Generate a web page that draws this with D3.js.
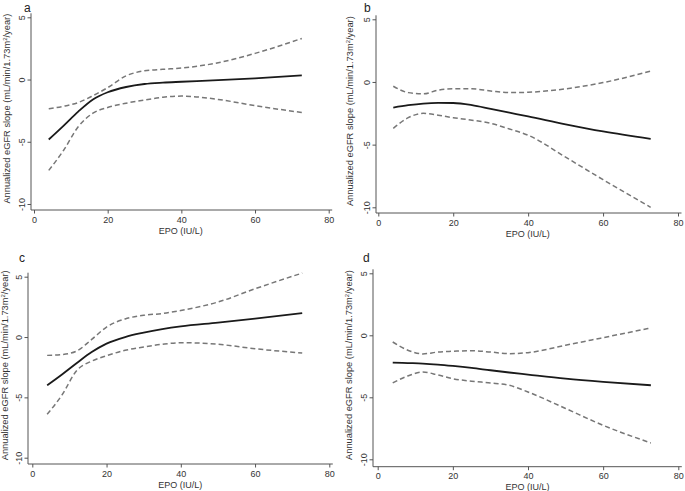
<!DOCTYPE html>
<meta charset="utf-8">
<script src="https://cdn.jsdelivr.net/npm/d3@7"></script>
<style>
    body { margin: 0; background: white; }
    svg { font-family: "Liberation Sans", Arial, sans-serif; }
    .axis path, .axis line { stroke: #555; }
    .axis text { fill: #333; font-size: 9px; }
</style>
<svg width="685" height="491"></svg>
<script>
    var epo = [4, 8, 12, 16, 20, 25, 30, 35, 40, 50, 60, 72.7];
    var xTicks = [0, 20, 40, 60, 80];
    var yTicks = [5, 0, -5, -10];

    // panel a
    var aFit   = [-4.82, -3.72, -2.58, -1.6, -1.02, -0.6, -0.36, -0.25, -0.18, -0.05, 0.1, 0.33];
    var aUpper = [-2.35, -2.15, -1.85, -1.3, -0.65, 0.3, 0.7, 0.82, 0.92, 1.35, 2.1, 3.3];
    var aLower = [-7.3, -5.7, -3.8, -2.7, -2.25, -1.9, -1.65, -1.42, -1.33, -1.6, -2.1, -2.65];
    // panel b
    var bFit   = [-2.04, -1.85, -1.72, -1.67, -1.68, -1.85, -2.15, -2.45, -2.75, -3.38, -3.95, -4.55];
    var bUpper = [-0.34, -0.85, -0.95, -0.65, -0.55, -0.55, -0.72, -0.85, -0.82, -0.55, -0.05, 0.87];
    var bLower = [-3.7, -2.85, -2.5, -2.65, -2.85, -3.05, -3.3, -3.75, -4.25, -6.0, -7.8, -10.0];
    // panel c
    var cFit   = [-4.0, -3.1, -2.15, -1.25, -0.55, 0.0, 0.36, 0.65, 0.88, 1.19, 1.52, 1.99];
    var cUpper = [-1.52, -1.45, -1.15, -0.2, 0.83, 1.5, 1.8, 1.95, 2.2, 2.9, 4.0, 5.3];
    var cLower = [-6.4, -4.8, -2.76, -2.0, -1.55, -1.1, -0.83, -0.6, -0.47, -0.6, -0.97, -1.33];
    // panel d
    var dFit   = [-2.2, -2.24, -2.28, -2.36, -2.47, -2.63, -2.82, -3.0, -3.17, -3.5, -3.76, -4.03];
    var dUpper = [-0.54, -1.2, -1.5, -1.35, -1.29, -1.24, -1.35, -1.48, -1.4, -0.8, -0.19, 0.59];
    var dLower = [-3.84, -3.28, -2.96, -3.2, -3.5, -3.7, -3.84, -4.03, -4.57, -5.9, -7.26, -8.68];

    var panels = [
        { name: "a", fit: aFit, upper: aUpper, lower: aLower,
          x0: 34, x1: 328.7, yTop: 17.3, yBot: 204, axisX: 31, axisY: 210, lab: [24, 12], ytitleX: 10 },
        { name: "b", fit: bFit, upper: bUpper, lower: bLower,
          x0: 378.3, x1: 678, yTop: 19.3, yBot: 207.3, axisX: 376, axisY: 213, lab: [364, 12], ytitleX: 353 },
        { name: "c", fit: cFit, upper: cUpper, lower: cLower,
          x0: 32.3, x1: 329.3, yTop: 276.7, yBot: 457.7, axisX: 28, axisY: 464, lab: [19, 262], ytitleX: 8 },
        { name: "d", fit: dFit, upper: dUpper, lower: dLower,
          x0: 377.7, x1: 678.3, yTop: 273.3, yBot: 459.3, axisX: 373, axisY: 466.7, lab: [363, 262], ytitleX: 352 }
    ];

    var svg = d3.select("svg");
    var fmt = function(d) { return d < 0 ? "-" + Math.abs(d) : "" + d; };

    panels.forEach(function(p) {
        var x = d3.scaleLinear().domain([0, 80]).range([p.x0, p.x1]),
            y = d3.scaleLinear().domain([5, -10]).range([p.yTop, p.yBot]);
        var g = svg.append("g");

        var line = function(vals) {
            return d3.line().curve(d3.curveMonotoneX)
                .x(function(d, i) { return x(epo[i]); })
                .y(function(d) { return y(d); })(vals);
        };
        [p.upper, p.lower].forEach(function(vals) {
            g.append("path").attr("d", line(vals)).attr("fill", "none")
                .attr("stroke", "#777").attr("stroke-width", 1.5).attr("stroke-dasharray", "5,3");
        });
        g.append("path").attr("d", line(p.fit)).attr("fill", "none")
            .attr("stroke", "#1a1a1a").attr("stroke-width", 1.8);

        // axes, stata style: line spans the plot region
        var xAxis = g.append("g").attr("class", "axis")
            .attr("transform", "translate(0," + p.axisY + ")")
            .call(d3.axisBottom(x).tickValues(xTicks).tickFormat(fmt).tickSize(3.5).tickSizeOuter(0));
        xAxis.select(".domain").attr("d", "M" + p.axisX + ",0H" + (p.x1 + 3.5));
        xAxis.selectAll("text").attr("y", 6).attr("dy", "0.75em");

        var yAxis = g.append("g").attr("class", "axis")
            .attr("transform", "translate(" + p.axisX + ",0)")
            .call(d3.axisLeft(y).tickValues(yTicks).tickFormat(fmt).tickSize(3.5).tickSizeOuter(0));
        yAxis.select(".domain").attr("d", "M0," + (p.yTop - 4) + "V" + p.axisY);
        yAxis.selectAll(".tick text")
            .attr("x", null).attr("dy", null)
            .attr("text-anchor", "middle")
            .attr("transform", "translate(-6,0) rotate(-90)");

        // titles
        g.append("text").attr("x", (p.x0 + p.x1) / 2 - 0.5).attr("y", p.axisY + 23.5)
            .attr("text-anchor", "middle").attr("fill", "#333").attr("font-size", "9px")
            .text("EPO (IU/L)");
        var yt = g.append("text")
            .attr("transform", "translate(" + p.ytitleX + "," + ((p.yTop + p.axisY) / 2 - 5) + ") rotate(-90)")
            .attr("text-anchor", "middle").attr("fill", "#333").attr("font-size", "9.3px");
        yt.append("tspan").text("Annualized eGFR slope (mL/min/1.73m");
        yt.append("tspan").attr("font-size", "6px").attr("dy", "-0.5em").text("2");
        yt.append("tspan").attr("dy", "0.33em").text("/year)");

        g.append("text").attr("x", p.lab[0]).attr("y", p.lab[1])
            .attr("fill", "#222").attr("font-size", "12px").text(p.name);
    });
</script>
